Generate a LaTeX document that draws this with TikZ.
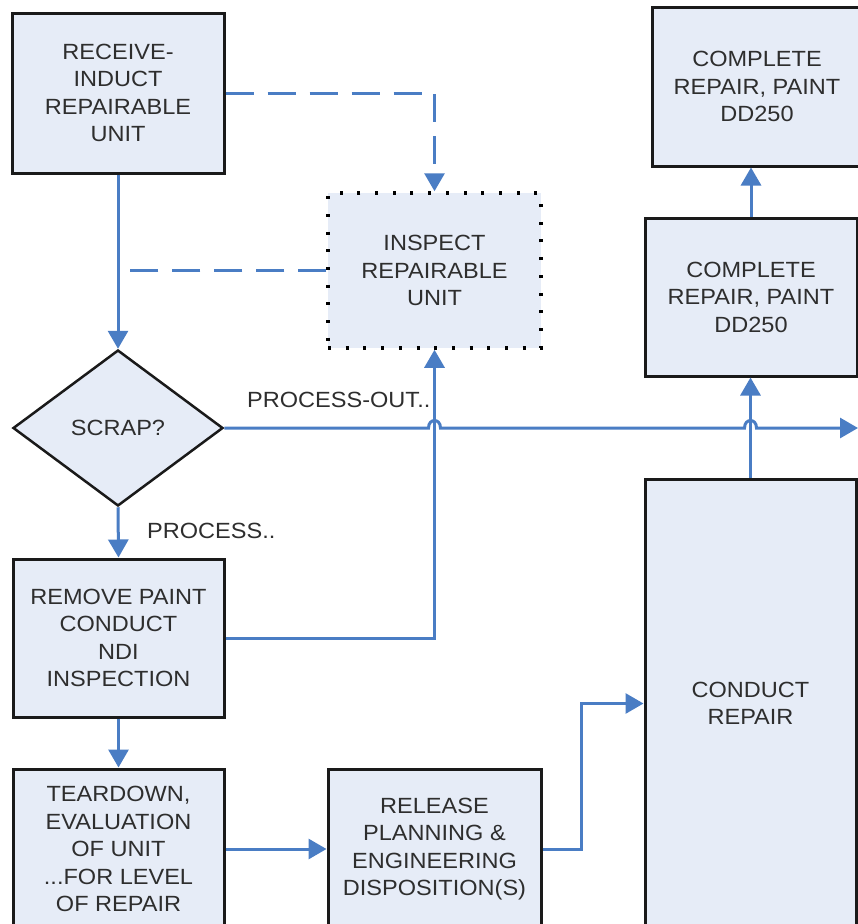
\documentclass[tikz,border=0pt]{standalone}
\usepackage{fontspec}
\setmainfont{Liberation Sans}[FakeStretch=1.07]
\usetikzlibrary{arrows.meta,shapes.geometric,calc}
\definecolor{boxfill}{HTML}{E6ECF7}
\definecolor{flowblue}{HTML}{4A7DC4}
\definecolor{txtgray}{HTML}{2E2E2E}
\definecolor{edgeblack}{HTML}{1A1A1A}
\begin{document}
\begin{tikzpicture}[x=1pt,y=-1pt,
  txtfont/.style={font=\fontsize{22}{27.5}\selectfont},
  box/.style={draw=edgeblack, line width=3pt, fill=boxfill, text=txtgray, align=center, inner sep=0pt, txtfont},
  dotbox/.style={draw=black, line width=3.5pt, dash pattern=on 3pt off 14.7pt, fill=boxfill, text=txtgray, align=center, inner sep=0pt, txtfont},
  flow/.style={draw=flowblue, line width=3pt, -{Triangle[width=20pt,length=18pt]}},
  dashflow/.style={draw=flowblue, line width=3pt, dash pattern=on 28pt off 14pt},
  lbl/.style={text=txtgray, inner sep=0pt, txtfont}
]
\useasboundingbox[fill=white] (0,0) rectangle (858,924);

% boxes
\node[box, minimum width=212pt, minimum height=160pt] (receive) at (118,93) {RECEIVE-\\INDUCT\\REPAIRABLE\\UNIT};
\node[dotbox, minimum width=213pt, minimum height=155pt] (inspect) at (434.5,270.5) {INSPECT\\REPAIRABLE\\UNIT};
\node[diamond, draw=edgeblack, line width=2.5pt, fill=boxfill, minimum width=210pt, minimum height=156pt, inner sep=0pt, text=txtgray, txtfont] (scrap) at (118,428) {SCRAP?};
\node[box, minimum width=211pt, minimum height=158pt] (remove) at (118.5,638) {REMOVE PAINT\\CONDUCT\\NDI\\INSPECTION};
\node[box, minimum width=211pt, minimum height=160pt] (teardown) at (118.5,849) {TEARDOWN,\\EVALUATION\\OF UNIT\\...FOR LEVEL\\OF REPAIR};
\node[box, minimum width=213pt, minimum height=160pt] (release) at (434.5,849) {RELEASE\\PLANNING \&\\ENGINEERING\\DISPOSITION(S)};
\node[box, minimum width=211pt, minimum height=449pt] (conduct) at (750.5,703.5) {CONDUCT\\REPAIR};
\node[box, minimum width=212pt, minimum height=158pt] (complete2) at (751,297) {COMPLETE\\REPAIR, PAINT\\DD250};
\node[box, minimum width=210pt, minimum height=159pt] (complete1) at (757,86.5) {COMPLETE\\REPAIR, PAINT\\DD250};

% labels
\node[lbl, anchor=west] (pout) at (247,400) {PROCESS-OUT..};
\node[lbl, anchor=west] (pin) at (147,531) {PROCESS..};

% helper coordinates
\coordinate (outR) at (858,428);
\coordinate (j1) at (scrap.east -| inspect.south);
\coordinate (j2) at (scrap.east -| conduct.north);

% connectors
\draw[flow] (receive.south) -- (scrap.north);
\draw[dashflow, -{Triangle[width=20pt,length=18pt]}] (receive.east) -| (inspect.north);
\draw[dashflow] (inspect.west) -- (inspect.west -| receive.south);
\draw[flow] (scrap.south) -- (remove.north);
\draw[flow] (remove.east) -| (inspect.south);
\draw[flow] (scrap.east) -- ($(j1)+(-6,0)$) .. controls ($(j1)+(-6,-10)$) and ($(j1)+(6,-10)$) .. ($(j1)+(6,0)$)
  -- ($(j2)+(-6,0)$) .. controls ($(j2)+(-6,-10)$) and ($(j2)+(6,-10)$) .. ($(j2)+(6,0)$) -- (outR);
\draw[flow] (remove.south) -- (teardown.north);
\draw[flow] (teardown.east) -- (release.west);
\draw[flow] (release.east) -- ++(39,0) |- (conduct.west);
\draw[flow] (conduct.north) -- (conduct.north |- complete2.south);
\draw[flow] (complete2.north) -- (complete2.north |- complete1.south);
\end{tikzpicture}
\end{document}
